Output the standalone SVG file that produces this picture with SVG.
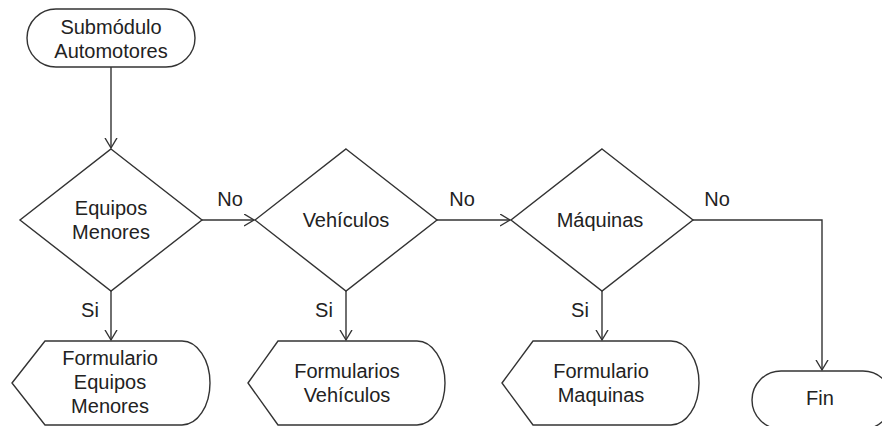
<svg xmlns="http://www.w3.org/2000/svg" width="882" height="426" viewBox="0 0 882 426">
  <style>
    .shape { fill: #ffffff; stroke: #333333; stroke-width: 1.4; }
    .edge { fill: none; stroke: #333333; stroke-width: 1.4; }
    .lbl { font-family: "Liberation Sans", Arial, sans-serif; font-size: 20px; fill: #222222; text-anchor: middle; }
  </style>
  <defs>
    <marker id="arrow" markerUnits="userSpaceOnUse" markerWidth="12" markerHeight="14" refX="10" refY="6.5" orient="auto">
      <path d="M0,0.5 L10,6.5 L0,12.5" fill="none" stroke="#333333" stroke-width="1.4"/>
    </marker>
  </defs>
  <rect width="882" height="426" fill="#ffffff"/>

  <!-- connectors -->
  <g id="connectors">
    <path class="edge" d="M111,67 L111,148" marker-end="url(#arrow)"/>
    <path class="edge" d="M202,220 L254,220" marker-end="url(#arrow)"/>
    <path class="edge" d="M437,220 L510,220" marker-end="url(#arrow)"/>
    <path class="edge" d="M693,220 L822,220 L822,370" marker-end="url(#arrow)"/>
    <path class="edge" d="M111,291 L111,340" marker-end="url(#arrow)"/>
    <path class="edge" d="M346,291 L346,340" marker-end="url(#arrow)"/>
    <path class="edge" d="M602,291 L602,340" marker-end="url(#arrow)"/>
    <text class="lbl" x="230" y="206">No</text>
    <text class="lbl" x="462" y="206">No</text>
    <text class="lbl" x="717" y="206">No</text>
    <text class="lbl" x="90" y="317">Si</text>
    <text class="lbl" x="324" y="317">Si</text>
    <text class="lbl" x="580" y="317">Si</text>
  </g>

  <!-- start terminator -->
  <g id="inicio">
    <rect class="shape" x="27" y="9" width="168" height="58" rx="29" ry="29"/>
    <text class="lbl" x="111" y="34">Submódulo</text>
    <text class="lbl" x="111" y="58">Automotores</text>
  </g>

  <!-- decisions -->
  <g id="equipos-menores">
    <polygon class="shape" points="111,149 202,220 111,291 20,220"/>
    <text class="lbl" x="111" y="215">Equipos</text>
    <text class="lbl" x="111" y="239">Menores</text>
  </g>
  <g id="vehiculos">
    <polygon class="shape" points="346,149 437,220 346,291 255,220"/>
    <text class="lbl" x="346" y="227">Vehículos</text>
  </g>
  <g id="maquinas">
    <polygon class="shape" points="602,149 693,220 602,291 511,220"/>
    <text class="lbl" x="600" y="227">Máquinas</text>
  </g>

  <!-- display outputs -->
  <g id="form-equipos">
    <path class="shape" d="M12,383 L45,341 L182,341 A28,42 0 0 1 182,425 L45,425 Z"/>
    <text class="lbl" x="110" y="365">Formulario</text>
    <text class="lbl" x="110" y="389">Equipos</text>
    <text class="lbl" x="110" y="413">Menores</text>
  </g>
  <g id="form-vehiculos">
    <path class="shape" d="M248,383 L278,341 L417,341 A28,42 0 0 1 417,425 L278,425 Z"/>
    <text class="lbl" x="347" y="378">Formularios</text>
    <text class="lbl" x="347" y="402">Vehículos</text>
  </g>
  <g id="form-maquinas">
    <path class="shape" d="M502,383 L533,341 L671,341 A28,42 0 0 1 671,425 L533,425 Z"/>
    <text class="lbl" x="601" y="378">Formulario</text>
    <text class="lbl" x="601" y="402">Maquinas</text>
  </g>

  <!-- end terminator -->
  <g id="fin">
    <rect class="shape" x="752" y="371" width="140" height="58" rx="29" ry="29"/>
    <text class="lbl" x="820" y="405">Fin</text>
  </g>
</svg>
